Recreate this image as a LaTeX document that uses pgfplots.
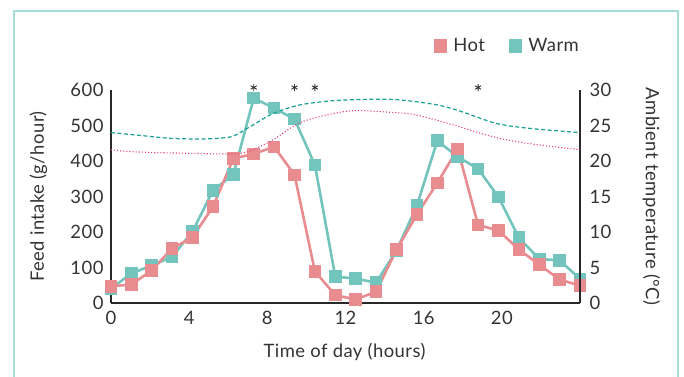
\documentclass[border=0pt]{standalone}
\usepackage{fontspec}
\setmainfont{Lato}[LetterSpace=2.5]
\usepackage{pgfplots}
\pgfplotsset{compat=1.18}
\definecolor{hotc}{RGB}{232,140,144}
\definecolor{warmc}{RGB}{116,196,190}
\definecolor{hottemp}{RGB}{232,64,122}
\definecolor{warmtemp}{RGB}{26,160,150}
\definecolor{framec}{RGB}{168,220,216}
\definecolor{axc}{RGB}{40,40,40}
\begin{document}
\begin{tikzpicture}[x=1bp,y=1bp]
\useasboundingbox (0,0) rectangle (684,376);
\draw[framec, line width=2bp] (14,-20) -- (14,365) -- (678,365) -- (678,-20);
\pgfplotsset{
  common/.style={
    at={(111bp,73bp)}, anchor=south west,
    scale only axis, width=469bp, height=213bp,
    xmin=0, xmax=24,
    major tick length=0pt,
    axis line style={axc, line width=2.4bp},
    tick label style={font=\fontsize{18.5}{21}\selectfont, text=black!80},
    label style={font=\fontsize{18.5}{21}\selectfont, text=black!80},
    /pgf/number format/assume math mode=true,
    clip=false,
  }
}
\begin{axis}[common,
  axis y line*=left, axis x line*=bottom,
  ymin=0, ymax=600,
  ytick={0,100,...,600},
  xtick={0,4,...,20},
  xticklabel style={yshift=-5bp},
  yticklabel style={xshift=-4bp},
  xlabel={Time of day (hours)},
  ylabel={Feed intake (g/hour)},
  xlabel style={at={(axis description cs:0.498,-0.23)}, anchor=center},
  ylabel style={at={(axis description cs:-0.1546,0.5)}, anchor=center, rotate=0},
  legend columns=2,
  legend style={at={(0.682,1.21)}, anchor=west, draw=none, fill=none,
    font=\fontsize{18.5}{21}\selectfont, text=black!80,
    /tikz/every odd column/.append style={column sep=5bp},
    /tikz/every even column/.append style={column sep=22bp}},
]
\addplot[warmc, line width=2.6bp, mark=square*, mark size=5bp, mark options={solid, fill=warmc}, forget plot]
coordinates {
(0,41) (1.0435,83) (2.087,106) (3.1304,130) (4.1739,202) (5.2174,317)
(6.2609,362) (7.3043,577) (8.3478,549) (9.3913,518) (10.4348,389) (11.4783,74)
(12.5217,69) (13.5652,57) (14.6087,148) (15.6522,274) (16.6957,457) (17.7391,412)
(18.7826,378) (19.8261,299) (20.8696,184) (21.913,124) (22.9565,120) (24,68)
};
\addplot[hotc, line width=2.6bp, mark=square*, mark size=5bp, mark options={solid, fill=hotc}, forget plot]
coordinates {
(0,47) (1.0435,52) (2.087,92) (3.1304,154) (4.1739,185) (5.2174,271)
(6.2609,407) (7.3043,420) (8.3478,440) (9.3913,361) (10.4348,89) (11.4783,22)
(12.5217,10) (13.5652,32) (14.6087,150) (15.6522,249) (16.6957,338) (17.7391,434)
(18.7826,220) (19.8261,204) (20.8696,151) (21.913,108) (22.9565,66) (24,49)
};
\addplot[only marks, mark=asterisk, mark size=3.5bp, black!80, line width=0.9bp, forget plot]
coordinates {(7.3043,607) (9.3913,607) (10.4348,607) (18.7826,607)};
\addlegendimage{legend image code/.code={\fill[hotc] (0bp,-6.5bp) rectangle (12bp,6.5bp);}}
\addlegendentry{Hot}
\addlegendimage{legend image code/.code={\fill[warmc] (0bp,-6.5bp) rectangle (12bp,6.5bp);}}
\addlegendentry{Warm}
\end{axis}
\begin{axis}[common,
  axis y line*=right, axis x line=none,
  ymin=0, ymax=30,
  ytick={0,5,...,30},
  yticklabel style={xshift=6bp},
  ylabel={Ambient temperature (°C)},
  ylabel style={at={(axis description cs:1.1525,0.5)}, anchor=center, rotate=180},
]
\addplot[warmtemp, line width=1.2bp, dashed, dash pattern=on 4bp off 2.5bp, smooth]
coordinates {
(0,24.0) (1.5,23.6) (3,23.2) (4.5,23.1) (5.5,23.2) (6.25,23.5) (7.1,24.8) (8.3,26.7)
(9.67,27.9) (11.4,28.5) (13.4,28.7) (14.8,28.6) (16.7,27.9) (18,26.9) (19.7,25.3)
(21.4,24.6) (24,24.0)
};
\addplot[hottemp, line width=1.1bp, dotted, smooth]
coordinates {
(0,21.6) (1.1,21.3) (3.7,21.1) (6.25,21.0) (7.1,21.4) (8.3,23.0) (9.67,25.4)
(11.4,26.7) (12.6,27.1) (14.6,26.8) (15.6,26.5) (17.5,25.1) (18.9,23.9) (20.2,23.0)
(21.8,22.3) (24,21.6)
};
\end{axis}
\end{tikzpicture}
\end{document}
